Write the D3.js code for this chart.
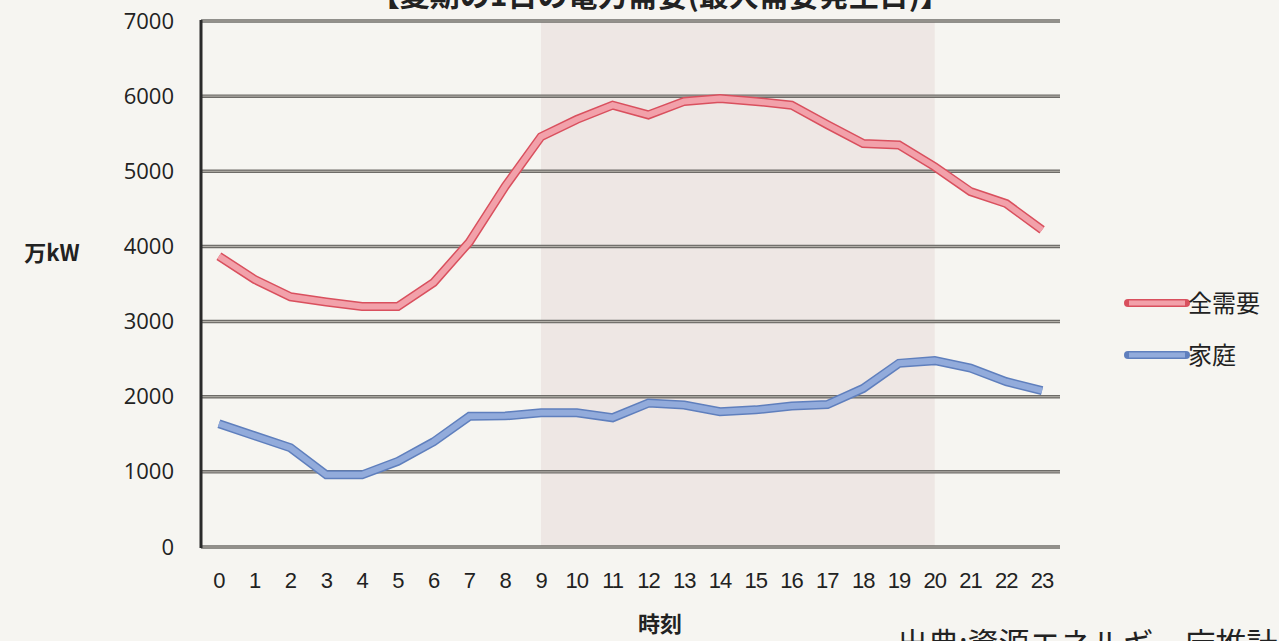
<!DOCTYPE html>
<html>
<head>
<meta charset="utf-8">
<script src="https://cdn.jsdelivr.net/npm/d3@7"></script>
<style>
  body { margin: 0; background: #f6f5f1; }
  svg { display: block; }
</style>
</head>
<body>
<svg width="1279" height="641"></svg>
<script>
var hours = d3.range(0, 24).map(String);
var totalDemand = [3870, 3560, 3330, 3260, 3200, 3200, 3520, 4060, 4800, 5460, 5690, 5880, 5750, 5930, 5970, 5930, 5880, 5620, 5370, 5350, 5060, 4730, 4570, 4220];
var household = [1640, 1480, 1320, 960, 960, 1140, 1400, 1740, 1745, 1785, 1785, 1720, 1915, 1890, 1800, 1825, 1875, 1895, 2110, 2445, 2480, 2380, 2200, 2080];
var yTicks = [0, 1000, 2000, 3000, 4000, 5000, 6000, 7000];
var seriesNames = ["全需要", "家庭"];
var peakHours = ["9", "20"];

var svg = d3.select("svg");
var font = "'Noto Sans CJK JP', 'Noto Sans', sans-serif";

var x = d3.scaleBand().domain(hours).range([201, 1060]);
var y = d3.scaleLinear().domain([0, 7000]).range([547, 21]);
var cx = function (h) { return x(h) + x.bandwidth() / 2; };

// title (cut off at top of the scan)
svg.append("text")
  .attr("x", 660).attr("y", 6)
  .attr("text-anchor", "middle")
  .attr("font-family", font).attr("font-weight", "bold").attr("font-size", 30)
  .attr("fill", "#222")
  .text("【夏期の1日の電力需要(最大需要発生日)】");

// shaded peak period
svg.append("rect")
  .attr("x", cx(peakHours[0]))
  .attr("y", y(7000))
  .attr("width", cx(peakHours[1]) - cx(peakHours[0]))
  .attr("height", y(0) - y(7000))
  .attr("fill", "#eee7e4");

// gridlines (double-line look)
var grid = svg.append("g");
grid.selectAll("line.g1")
  .data(yTicks)
  .enter()
  .append("line")
  .attr("x1", 201).attr("x2", 1060)
  .attr("y1", function (d) { return y(d); })
  .attr("y2", function (d) { return y(d); })
  .attr("stroke", "#6e6c68").attr("stroke-width", 3.5);
grid.selectAll("line.g2")
  .data(yTicks)
  .enter()
  .append("line")
  .attr("x1", 201).attr("x2", 1060)
  .attr("y1", function (d) { return y(d); })
  .attr("y2", function (d) { return y(d); })
  .attr("stroke", "#b8b5ae").attr("stroke-width", 1);

// y axis line
svg.append("line")
  .attr("x1", 201).attr("x2", 201)
  .attr("y1", y(7000) - 1).attr("y2", y(0) + 1)
  .attr("stroke", "#2a2a2a").attr("stroke-width", 3);

// y tick labels
var yAxis = svg.append("g")
  .attr("transform", "translate(174,0)")
  .call(d3.axisLeft(y).tickValues(yTicks).tickFormat(d3.format("d")).tickSize(0).tickPadding(0));
yAxis.select(".domain").remove();
yAxis.selectAll("text")
  .attr("font-family", "'Open Sans', sans-serif")
  .attr("font-size", 22)
  .attr("fill", "#222");

// x tick labels
var xAxis = svg.append("g")
  .attr("transform", "translate(0,572)")
  .call(d3.axisBottom(x).tickSize(0).tickPadding(0));
xAxis.select(".domain").remove();
xAxis.selectAll("text")
  .attr("font-family", "'Liberation Sans Narrow', 'Liberation Sans', sans-serif")
  .attr("font-size", 22)
  .attr("letter-spacing", -1)
  .attr("fill", "#222");

// axis titles
svg.append("text")
  .attr("x", 52).attr("y", 261)
  .attr("text-anchor", "middle")
  .attr("font-family", font).attr("font-weight", "bold").attr("font-size", 22)
  .attr("fill", "#222")
  .text("万kW");
svg.append("text")
  .attr("x", 660).attr("y", 632)
  .attr("text-anchor", "middle")
  .attr("font-family", font).attr("font-weight", "bold").attr("font-size", 22)
  .attr("fill", "#222")
  .text("時刻");

// series lines
var line = d3.line()
  .x(function (d, i) { return cx(hours[i]); })
  .y(function (d) { return y(d); });

var series = [
  { name: seriesNames[0], values: totalDemand, edge: "#d9505e", fill: "#f2a1aa" },
  { name: seriesNames[1], values: household, edge: "#5f7fbd", fill: "#92abdb" }
];

series.forEach(function (s) {
  svg.append("path")
    .attr("d", line(s.values))
    .attr("fill", "none")
    .attr("stroke", s.edge)
    .attr("stroke-width", 9)
    .attr("stroke-linejoin", "miter");
  svg.append("path")
    .attr("d", line(s.values))
    .attr("fill", "none")
    .attr("stroke", s.fill)
    .attr("stroke-width", 6)
    .attr("stroke-linejoin", "miter");
});

// legend
var legend = svg.append("g")
  .selectAll("g")
  .data(series)
  .enter()
  .append("g")
  .attr("transform", function (d, i) { return "translate(1128," + (303 + i * 52) + ")"; });
legend.append("line")
  .attr("x1", 0).attr("x2", 58)
  .attr("stroke", function (d) { return d.edge; })
  .attr("stroke-width", 8).attr("stroke-linecap", "round");
legend.append("line")
  .attr("x1", 1).attr("x2", 57)
  .attr("stroke", function (d) { return d.fill; })
  .attr("stroke-width", 5);
legend.append("text")
  .attr("x", 60).attr("y", 9)
  .attr("font-family", font).attr("font-size", 24)
  .attr("fill", "#222")
  .text(function (d) { return d.name; });

// source note (cut off at the bottom/right of the scan)
svg.append("text")
  .attr("x", 897).attr("y", 655)
  .attr("font-family", font).attr("font-size", 31)
  .attr("fill", "#222")
  .text("出典:資源エネルギー庁推計");
</script>
</body>
</html>
